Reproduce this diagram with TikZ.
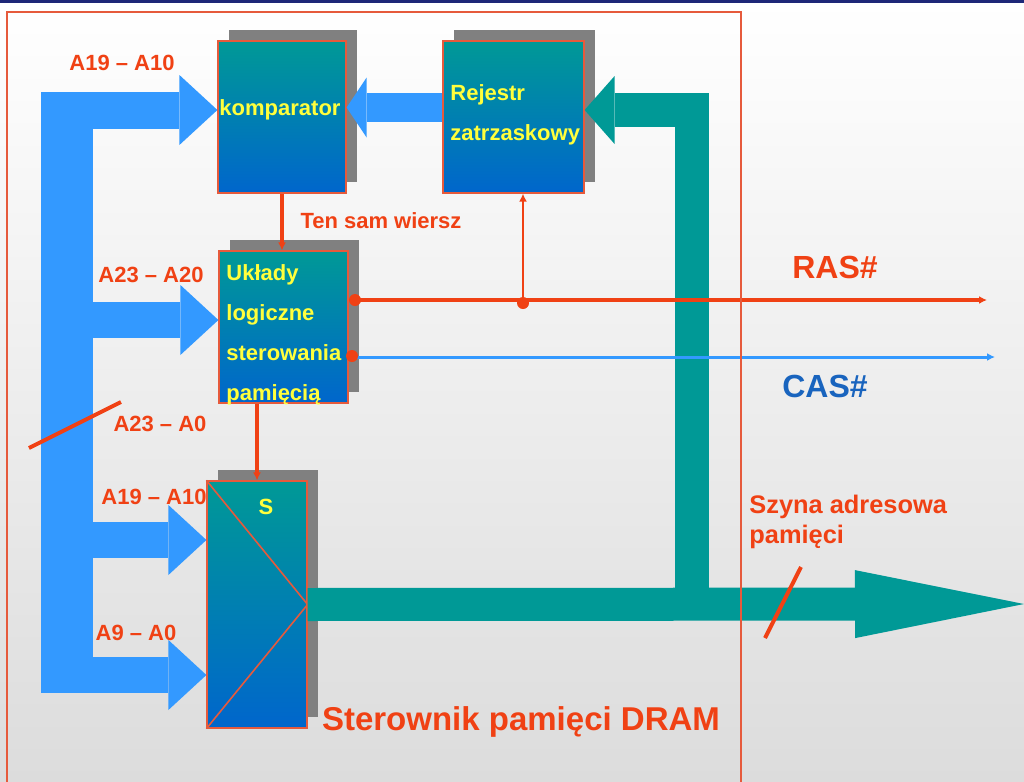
\documentclass[tikz,border=0pt]{standalone}
\usepackage{fontspec}
\setmainfont{Liberation Sans}
\usetikzlibrary{arrows.meta,shadows}
\definecolor{tlo}{RGB}{220,220,220}
\definecolor{granat}{RGB}{30,40,120}
\definecolor{ramka}{RGB}{230,90,60}
\definecolor{czerw}{RGB}{240,65,20}
\definecolor{morski}{RGB}{0,153,150}
\definecolor{niebieski}{RGB}{51,153,255}
\definecolor{ciemnonieb}{RGB}{0,102,204}
\definecolor{casnieb}{RGB}{25,100,190}
\definecolor{zolty}{RGB}{255,255,60}
\definecolor{cien}{RGB}{128,128,128}
\begin{document}
\begin{tikzpicture}[x=0.5pt,y=-0.5pt,
    blok/.style={draw=ramka,line width=0.6pt,top color=morski,bottom color=ciemnonieb,inner sep=0pt,
      drop shadow={shadow xshift=5.5pt,shadow yshift=5.5pt,fill=cien,opacity=1}},
    napis/.style={text=zolty,font=\fontsize{11}{20}\selectfont\bfseries,align=left,inner sep=0pt},
    etykieta/.style={text=czerw,font=\fontsize{11}{13}\selectfont\bfseries,inner sep=0pt},
    duza/.style={font=\fontsize{16}{19}\selectfont\bfseries},
    szynaN/.style={draw=niebieski,line cap=butt,-{Triangle[length=19pt,width=35pt,line width=0pt]}},
    szynaM/.style={draw=morski,line cap=butt},
    sygnal/.style={draw=czerw,line width=1.6pt},
    kropka/.style={circle,fill=czerw,inner sep=0pt,minimum size=6pt}]
  \useasboundingbox (0,0) rectangle (1024,782);
  \clip (0,0) rectangle (1024,782);
  \shade[top color=white,bottom color=tlo] (0,0) rectangle (1024,782);
  \fill[granat] (0,0) rectangle (1024,3);

  % bloki
  \node[blok,minimum width=64pt,minimum height=76pt] (komp) at (282,117) {};
  \node[blok,minimum width=70.5pt,minimum height=76pt] (rej) at (513.5,117) {};
  \node[blok,minimum width=64.5pt,minimum height=76pt] (ukl) at (283.5,327) {};
  \node[blok,minimum width=50pt,minimum height=123.5pt] (mux) at (257,604.5) {};
  \draw[ramka,line width=0.8pt] (mux.north west) -- (mux.east) -- (mux.south west);

  % szyna adresowa procesora
  \coordinate (b1) at (93,110);
  \coordinate (b2) at (93,320);
  \coordinate (b3) at (93,540);
  \coordinate (b4) at (93,675);
  \fill[niebieski] (41,91.5) rectangle (93,693);
  \draw[szynaN,line width=18.5pt] (b1) -- (komp.west |- b1);
  \draw[szynaN,line width=18pt] (b2) -- (ukl.west |- b2);
  \draw[szynaN,line width=18pt] (b3) -- (mux.west |- b3);
  \draw[szynaN,line width=18pt] (b4) -- (mux.west |- b4);
  \coordinate (r1) at (443,107.5);
  \draw[szynaN,line width=14.5pt,-{Triangle[length=10pt,width=30pt,line width=0pt]}] (rej.west |- r1) -- (komp.east |- r1);

  % szyna adresowa pamieci
  \coordinate (t0) at (692,604);
  \coordinate (t1) at (692,110);
  \coordinate (wyj) at (1024,604);
  \draw[szynaM,line width=16.5pt,-{Triangle[length=84.5pt,width=34pt,line width=0pt]}] (mux.east) -- (wyj);
  \draw[szynaM,line width=17pt,line join=miter,-{Triangle[length=15pt,width=34pt,line width=0pt]}]
    (t0) -- (t1) -- (rej.east |- t1);

  % sygnaly sterujace
  \coordinate (rasK) at (987,300);
  \coordinate (casK) at (995,357);
  \begin{scope}[-{Latex[length=4pt,width=4pt]}]
    \draw[sygnal] (komp.south) -- (komp.south |- ukl.north);
    \draw[sygnal] (mux.north |- ukl.south) -- (mux.north);
    \draw[sygnal,{Latex[length=4pt,width=4pt]}-{Latex[length=4pt,width=4pt]}] (ukl.east |- rasK) -- (rasK);
    \draw[sygnal,line width=1.1pt] (523,303) -- (523,303 |- rej.south);
    \draw[niebieski,line width=1.5pt] (ukl.east |- casK) -- (casK);
  \end{scope}
  \node[kropka] (k1) at (355,300) {};
  \node[kropka] (k2) at (523,303) {};
  \node[kropka] (k3) at (352,356) {};
  \draw[czerw,line width=2pt] (29,448) -- (121,402);
  \draw[czerw,line width=2pt] (765,638) -- (801,567);

  % ramka sterownika
  \draw[ramka,line width=0.6pt] (7,790) -- (7,12) -- (741,12) -- (741,790);

  % napisy w blokach
  \node[napis,anchor=base] (tkomp) at (280,115) {komparator};
  \node[napis,anchor=west] (trej) at (450,115) {Rejestr\\zatrzaskowy};
  \node[napis,anchor=west] (tukl) at (226,335) {Układy\\logiczne\\sterowania\\pamięcią};
  \node[napis] (tmux) at (266,507) {S};

  % etykiety
  \path
    (122,63) node[etykieta] (a1910g) {A19 – A10}
    (381,221) node[etykieta] (tsw) {Ten sam wiersz}
    (151,275) node[etykieta] (a2320) {A23 – A20}
    (160,424) node[etykieta] (a230) {A23 – A0}
    (154,497) node[etykieta] (a1910d) {A19 – A10}
    (136,633) node[etykieta] (a90) {A9 – A0}
    (835,267) node[etykieta,duza] (ras) {RAS\#}
    (825,386) node[etykieta,duza,text=casnieb] (cas) {CAS\#}
    (749,522) node[etykieta,font=\fontsize{12.7}{15}\selectfont\bfseries,align=left,anchor=west] (szyna) {Szyna adresowa\\pamięci}
    (521,730) node[etykieta,font=\fontsize{16.5}{20}\selectfont\bfseries,anchor=base] (sterownik) {Sterownik pamięci DRAM};
\end{tikzpicture}
\end{document}
